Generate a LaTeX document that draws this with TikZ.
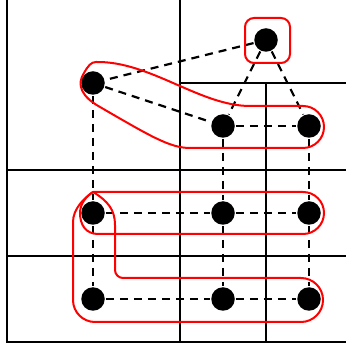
\documentclass[tikz,border=0pt]{standalone}
\begin{document}
\begin{tikzpicture}[x=1pt,y=1pt,line width=2.2pt,
  dot/.style={circle,fill=black,inner sep=0pt,minimum size=23.5pt},
  link/.style={dash pattern=on 8pt off 6pt},
  hull/.style={red,line width=2pt}]
\useasboundingbox (0,0) rectangle (346,347);
\draw (7,347)--(7,5)--(346,5);
\draw (180,5)--(180,347); \draw (266,5)--(266,264);
\draw (7,91)--(346,91); \draw (7,177)--(346,177); \draw (180,264)--(346,264);
\node[dot] (a) at (266,307) {};
\node[dot] (b) at (93,264) {};
\node[dot] (c) at (223,221) {}; \node[dot] (d) at (309,221) {};
\foreach \n/\x in {e/93,f/223,g/309} \node[dot] (\n) at (\x,134) {};
\foreach \n/\x in {h/93,i/223,j/309} \node[dot] (\n) at (\x,48) {};
\foreach \p/\q in {a/b,a/c,a/d,b/c,c/d,b/e,c/f,d/g,e/f,f/g,e/h,f/i,g/j,h/i,i/j} \draw[link] (\p)--(\q);
\draw[hull,rounded corners=9] (245,284) rectangle (290,329);
\draw[hull] (96,285) .. controls (150,286) and (200,241) .. (250,241) -- (303,241) arc[start angle=90,end angle=-90,radius=21] -- (190,199) .. controls (170,199) and (150,211) .. (100,240) .. controls (82,250) and (76,262) .. (84,274) .. controls (88,281) and (91,285) .. (96,285) -- cycle;
\draw[hull] (93,155) -- (303,155) arc[start angle=90,end angle=-90,radius=21] -- (98,113) .. controls (86,113) and (80,122) .. (80,134) .. controls (80,144) and (87,151) .. (93,155) -- cycle;
\draw[hull] (93,155) .. controls (108,146) and (115,137) .. (115,122) -- (115,77) arc[start angle=180,end angle=270,radius=8] -- (301,69) arc[start angle=90,end angle=-90,radius=22] -- (95,25) arc[start angle=270,end angle=180,radius=22] -- (73,125) .. controls (73,138) and (84,149) .. (93,155);
\end{tikzpicture}
\end{document}
